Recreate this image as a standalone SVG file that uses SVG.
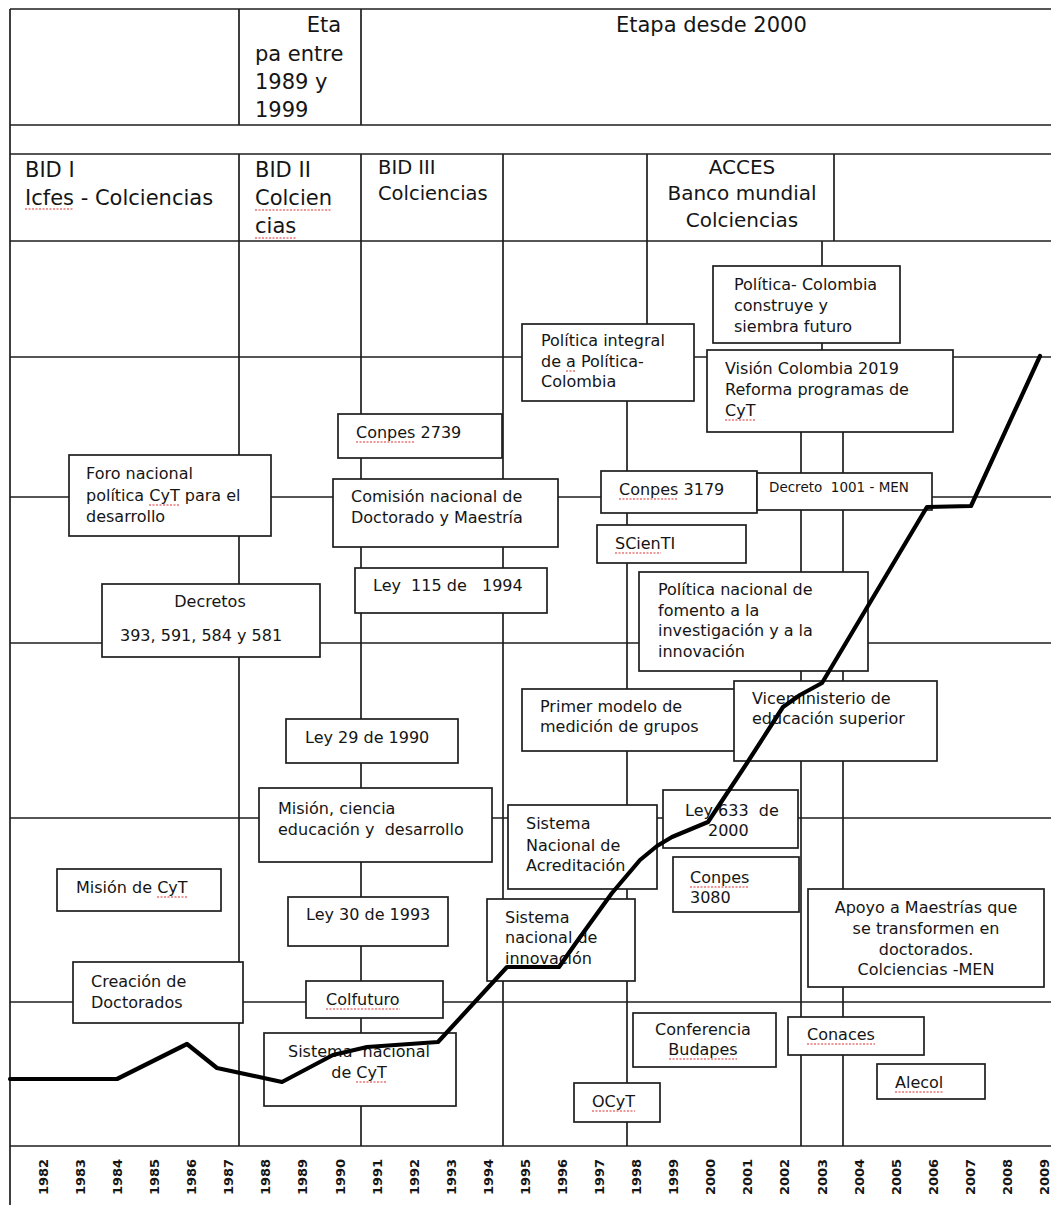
<svg xmlns="http://www.w3.org/2000/svg" width="1051" height="1205" viewBox="0 0 1051 1205">
<style>
.g line{stroke:#1e1e1e;stroke-width:1.7}
.box{fill:#fff;stroke:#1e1e1e;stroke-width:1.7}
text{font-family:"DejaVu Sans",sans-serif;fill:#151515}
.t{font-size:16px;white-space:pre}
.h{font-size:21px}
.s{font-size:13.5px;white-space:pre}
.y{font-family:"Liberation Sans",Arial,sans-serif;font-size:13px;font-weight:bold;fill:#2a2a2a}
.sq{stroke:#e03030;stroke-width:1.2;stroke-dasharray:2 1.5;fill:none}
.curve{fill:none;stroke:#000;stroke-width:4.2;stroke-linejoin:round;stroke-linecap:round}
</style>
<rect width="1051" height="1205" fill="#fff"/>
<g id="grid" class="g">
<line x1="10" y1="9" x2="1051" y2="9"/>
<line x1="10" y1="125" x2="1051" y2="125"/>
<line x1="10" y1="154" x2="1051" y2="154"/>
<line x1="10" y1="241" x2="1051" y2="241"/>
<line x1="10" y1="357" x2="1051" y2="357"/>
<line x1="10" y1="497" x2="1051" y2="497"/>
<line x1="10" y1="643" x2="1051" y2="643"/>
<line x1="10" y1="818" x2="1051" y2="818"/>
<line x1="10" y1="1002" x2="1051" y2="1002"/>
<line x1="10" y1="1146" x2="1051" y2="1146"/>
<line x1="10" y1="9" x2="10" y2="1205"/>
<line x1="239" y1="9" x2="239" y2="125"/>
<line x1="239" y1="154" x2="239" y2="1146"/>
<line x1="361" y1="9" x2="361" y2="125"/>
<line x1="361" y1="154" x2="361" y2="1146"/>
<line x1="503" y1="154" x2="503" y2="1146"/>
<line x1="647" y1="154" x2="647" y2="330"/>
<line x1="834" y1="154" x2="834" y2="241"/>
<line x1="822" y1="241" x2="822" y2="352"/>
<line x1="627" y1="395" x2="627" y2="1146"/>
<line x1="801" y1="430" x2="801" y2="1146"/>
<line x1="843" y1="430" x2="843" y2="1146"/>
</g>
<g id="header">
<text class="h" x="341" y="32" text-anchor="end">Eta</text>
<text class="h" x="255" y="61">pa entre</text>
<text class="h" x="255" y="89">1989 y</text>
<text class="h" x="255" y="117">1999</text>
<text class="h" x="616" y="32">Etapa desde 2000</text>
<text class="h" x="25" y="177">BID I</text>
<text class="h" x="25" y="205">Icfes - Colciencias</text>
<text class="h" x="255" y="177">BID II</text>
<text class="h" x="255" y="205">Colcien</text>
<text class="h" x="255" y="233">cias</text>
<text x="378" y="174" style="font-size:19.5px">BID III</text>
<text x="378" y="200" style="font-size:19.5px">Colciencias</text>
<text x="742" y="174" text-anchor="middle" style="font-size:20px">ACCES</text>
<text x="742" y="200" text-anchor="middle" style="font-size:20px">Banco mundial</text>
<text x="742" y="227" text-anchor="middle" style="font-size:20px">Colciencias</text>
</g>
<g id="n-foro"><rect class="box" x="69" y="455" width="202" height="81"/><text class="t" x="86" y="479">Foro nacional</text><text class="t" x="86" y="501">política CyT para el</text><text class="t" x="86" y="522">desarrollo</text></g>
<g id="n-decretos"><rect class="box" x="102" y="584" width="218" height="73"/><text class="t" x="210" y="607" text-anchor="middle">Decretos</text><text class="t" x="120" y="641">393, 591, 584 y 581</text></g>
<g id="n-conpes2739"><rect class="box" x="338" y="414" width="164" height="44"/><text class="t" x="356" y="438">Conpes 2739</text></g>
<g id="n-comision"><rect class="box" x="333" y="479" width="225" height="68"/><text class="t" x="351" y="502">Comisión nacional de</text><text class="t" x="351" y="523">Doctorado y Maestría</text></g>
<g id="n-ley115"><rect class="box" x="355" y="568" width="192" height="45"/><text class="t" x="373" y="591">Ley  115 de   1994</text></g>
<g id="n-ley29"><rect class="box" x="286" y="719" width="172" height="44"/><text class="t" x="305" y="743">Ley 29 de 1990</text></g>
<g id="n-mision"><rect class="box" x="259" y="788" width="233" height="74"/><text class="t" x="278" y="814">Misión, ciencia</text><text class="t" x="278" y="835">educación y  desarrollo</text></g>
<g id="n-misioncyt"><rect class="box" x="57" y="869" width="164" height="42"/><text class="t" x="76" y="893">Misión de CyT</text></g>
<g id="n-ley30"><rect class="box" x="288" y="897" width="160" height="49"/><text class="t" x="306" y="920">Ley 30 de 1993</text></g>
<g id="n-creacion"><rect class="box" x="73" y="962" width="170" height="61"/><text class="t" x="91" y="987">Creación de</text><text class="t" x="91" y="1008">Doctorados</text></g>
<g id="n-colfuturo"><rect class="box" x="306" y="981" width="137" height="37"/><text class="t" x="326" y="1005">Colfuturo</text></g>
<g id="n-sncyt"><rect class="box" x="264" y="1033" width="192" height="73"/><text class="t" x="359" y="1057" text-anchor="middle">Sistema  nacional</text><text class="t" x="359" y="1078" text-anchor="middle">de CyT</text></g>
<g id="n-polintegral"><rect class="box" x="522" y="324" width="172" height="77"/><text class="t" x="541" y="346">Política integral</text><text class="t" x="541" y="367">de a Política-</text><text class="t" x="541" y="387">Colombia</text></g>
<g id="n-polcolombia"><rect class="box" x="713" y="266" width="187" height="77"/><text class="t" x="734" y="290">Política- Colombia</text><text class="t" x="734" y="311">construye y</text><text class="t" x="734" y="332">siembra futuro</text></g>
<g id="n-vision"><rect class="box" x="707" y="350" width="246" height="82"/><text class="t" x="725" y="374">Visión Colombia 2019</text><text class="t" x="725" y="395">Reforma programas de</text><text class="t" x="725" y="416">CyT</text></g>
<g id="n-conpes3179"><rect class="box" x="601" y="471" width="156" height="42"/><text class="t" x="619" y="495">Conpes 3179</text></g>
<g id="n-decreto1001"><rect class="box" x="757" y="473" width="175" height="37"/><text class="s" x="769" y="492">Decreto  1001 - MEN</text></g>
<g id="n-scienti"><rect class="box" x="597" y="525" width="149" height="38"/><text class="t" x="615" y="549">SCienTI</text></g>
<g id="n-polnacional"><rect class="box" x="639" y="572" width="229" height="99"/><text class="t" x="658" y="595">Política nacional de</text><text class="t" x="658" y="616">fomento a la</text><text class="t" x="658" y="636">investigación y a la</text><text class="t" x="658" y="657">innovación</text></g>
<g id="n-primer"><rect class="box" x="522" y="689" width="213" height="62"/><text class="t" x="540" y="712">Primer modelo de</text><text class="t" x="540" y="732">medición de grupos</text></g>
<g id="n-vicemin"><rect class="box" x="734" y="681" width="203" height="80"/><text class="t" x="752" y="704">Viceministerio de</text><text class="t" x="752" y="724">educación superior</text></g>
<g id="n-ley633"><rect class="box" x="663" y="790" width="135" height="58"/><text class="t" x="685" y="816">Ley 633  de</text><text class="t" x="708" y="836">2000</text></g>
<g id="n-acreditacion"><rect class="box" x="508" y="805" width="149" height="84"/><text class="t" x="526" y="829">Sistema</text><text class="t" x="526" y="851">Nacional de</text><text class="t" x="526" y="871">Acreditación</text></g>
<g id="n-conpes3080"><rect class="box" x="673" y="857" width="126" height="55"/><text class="t" x="690" y="883">Conpes</text><text class="t" x="690" y="903">3080</text></g>
<g id="n-sninnov"><rect class="box" x="487" y="899" width="148" height="82"/><text class="t" x="505" y="923">Sistema</text><text class="t" x="505" y="943">nacional de</text><text class="t" x="505" y="964">innovación</text></g>
<g id="n-apoyo"><rect class="box" x="808" y="889" width="236" height="98"/><text class="t" x="926" y="913" text-anchor="middle">Apoyo a Maestrías que</text><text class="t" x="926" y="934" text-anchor="middle">se transformen en</text><text class="t" x="926" y="955" text-anchor="middle">doctorados.</text><text class="t" x="926" y="975" text-anchor="middle">Colciencias -MEN</text></g>
<g id="n-budapes"><rect class="box" x="633" y="1013" width="143" height="54"/><text class="t" x="703" y="1035" text-anchor="middle">Conferencia</text><text class="t" x="703" y="1055" text-anchor="middle">Budapes</text></g>
<g id="n-conaces"><rect class="box" x="788" y="1017" width="136" height="38"/><text class="t" x="807" y="1040">Conaces</text></g>
<g id="n-alecol"><rect class="box" x="877" y="1064" width="108" height="35"/><text class="t" x="895" y="1088">Alecol</text></g>
<g id="n-ocyt"><rect class="box" x="574" y="1083" width="86" height="39"/><text class="t" x="592" y="1107">OCyT</text></g>
<g id="spell">
<line class="sq" x1="25" y1="209" x2="74" y2="209"/>
<line class="sq" x1="255" y1="210" x2="332" y2="210"/>
<line class="sq" x1="255" y1="238" x2="296" y2="238"/>
<line class="sq" x1="149" y1="505" x2="179" y2="505"/>
<line class="sq" x1="356" y1="442" x2="415" y2="442"/>
<line class="sq" x1="566" y1="371" x2="576" y2="371"/>
<line class="sq" x1="725" y1="420" x2="755" y2="420"/>
<line class="sq" x1="619" y1="499" x2="678" y2="499"/>
<line class="sq" x1="615" y1="553" x2="661" y2="553"/>
<line class="sq" x1="157" y1="897" x2="187" y2="897"/>
<line class="sq" x1="326" y1="1009" x2="400" y2="1009"/>
<line class="sq" x1="356" y1="1082" x2="387" y2="1082"/>
<line class="sq" x1="690" y1="887" x2="749" y2="887"/>
<line class="sq" x1="669" y1="1059" x2="737" y2="1059"/>
<line class="sq" x1="807" y1="1044" x2="875" y2="1044"/>
<line class="sq" x1="895" y1="1092" x2="943" y2="1092"/>
<line class="sq" x1="592" y1="1111" x2="635" y2="1111"/>
</g>
<g id="years" class="y">
<text x="43" y="1177" transform="rotate(-90 43 1177)" text-anchor="middle" dominant-baseline="central">1982</text>
<text x="80" y="1177" transform="rotate(-90 80 1177)" text-anchor="middle" dominant-baseline="central">1983</text>
<text x="117" y="1177" transform="rotate(-90 117 1177)" text-anchor="middle" dominant-baseline="central">1984</text>
<text x="154" y="1177" transform="rotate(-90 154 1177)" text-anchor="middle" dominant-baseline="central">1985</text>
<text x="191" y="1177" transform="rotate(-90 191 1177)" text-anchor="middle" dominant-baseline="central">1986</text>
<text x="228" y="1177" transform="rotate(-90 228 1177)" text-anchor="middle" dominant-baseline="central">1987</text>
<text x="265" y="1177" transform="rotate(-90 265 1177)" text-anchor="middle" dominant-baseline="central">1988</text>
<text x="302" y="1177" transform="rotate(-90 302 1177)" text-anchor="middle" dominant-baseline="central">1989</text>
<text x="340" y="1177" transform="rotate(-90 340 1177)" text-anchor="middle" dominant-baseline="central">1990</text>
<text x="377" y="1177" transform="rotate(-90 377 1177)" text-anchor="middle" dominant-baseline="central">1991</text>
<text x="414" y="1177" transform="rotate(-90 414 1177)" text-anchor="middle" dominant-baseline="central">1992</text>
<text x="451" y="1177" transform="rotate(-90 451 1177)" text-anchor="middle" dominant-baseline="central">1993</text>
<text x="488" y="1177" transform="rotate(-90 488 1177)" text-anchor="middle" dominant-baseline="central">1994</text>
<text x="525" y="1177" transform="rotate(-90 525 1177)" text-anchor="middle" dominant-baseline="central">1995</text>
<text x="562" y="1177" transform="rotate(-90 562 1177)" text-anchor="middle" dominant-baseline="central">1996</text>
<text x="599" y="1177" transform="rotate(-90 599 1177)" text-anchor="middle" dominant-baseline="central">1997</text>
<text x="636" y="1177" transform="rotate(-90 636 1177)" text-anchor="middle" dominant-baseline="central">1998</text>
<text x="673" y="1177" transform="rotate(-90 673 1177)" text-anchor="middle" dominant-baseline="central">1999</text>
<text x="710" y="1177" transform="rotate(-90 710 1177)" text-anchor="middle" dominant-baseline="central">2000</text>
<text x="747" y="1177" transform="rotate(-90 747 1177)" text-anchor="middle" dominant-baseline="central">2001</text>
<text x="784" y="1177" transform="rotate(-90 784 1177)" text-anchor="middle" dominant-baseline="central">2002</text>
<text x="822" y="1177" transform="rotate(-90 822 1177)" text-anchor="middle" dominant-baseline="central">2003</text>
<text x="859" y="1177" transform="rotate(-90 859 1177)" text-anchor="middle" dominant-baseline="central">2004</text>
<text x="896" y="1177" transform="rotate(-90 896 1177)" text-anchor="middle" dominant-baseline="central">2005</text>
<text x="933" y="1177" transform="rotate(-90 933 1177)" text-anchor="middle" dominant-baseline="central">2006</text>
<text x="970" y="1177" transform="rotate(-90 970 1177)" text-anchor="middle" dominant-baseline="central">2007</text>
<text x="1007" y="1177" transform="rotate(-90 1007 1177)" text-anchor="middle" dominant-baseline="central">2008</text>
<text x="1044" y="1177" transform="rotate(-90 1044 1177)" text-anchor="middle" dominant-baseline="central">2009</text>
</g>
<g id="connectors">
<polyline class="curve" points="10,1079 117,1079 187,1044 217,1068 282,1082 333,1055 367,1047 438,1042 507,967 559,967 578,940 612,893 640,860 657,846 672,837 708,822 747,763 783,707 800,695 822,683 927,507 971,506 1040,356"/>
</g>
</svg>
